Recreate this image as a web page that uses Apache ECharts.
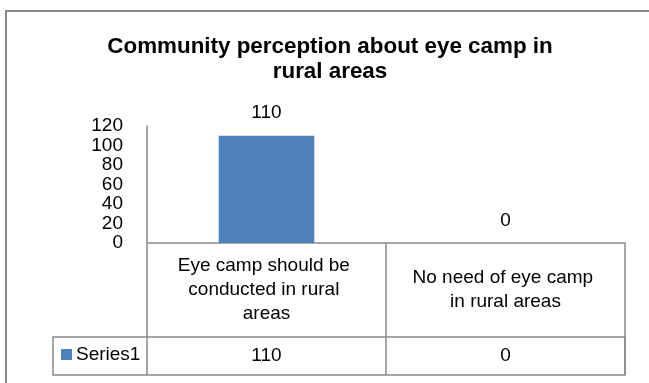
<!DOCTYPE html>
<html>
<head>
<meta charset="utf-8">
<script src="https://cdn.jsdelivr.net/npm/echarts@6/dist/echarts.min.js"></script>
<style>
  html, body { margin: 0; padding: 0; background: #fff; }
  #chart { width: 649px; height: 383px; }
</style>
</head>
<body>
<div id="chart"></div>
<script>
// Survey responses
const categories = [
  'Eye camp should be conducted in rural areas',
  'No need of eye camp in rural areas'
];
const seriesName = 'Series1';
const seriesValues = [110, 0];

// Value axis range and step
const yMin = 0;
const yMax = 120;
const yStep = 20;

const FONT = '"Liberation Sans", Arial, sans-serif';
const LINE = '#8a8a8a';

const chart = echarts.init(document.getElementById('chart'), null, { renderer: 'canvas' });

chart.setOption({
  animation: false,
  backgroundColor: '#ffffff',
  textStyle: { fontFamily: FONT, color: '#000' },
  title: {
    text: 'Community perception about eye camp in\nrural areas',
    left: 330,
    top: 34,
    textAlign: 'center',
    padding: 0,
    textStyle: {
      fontFamily: FONT,
      fontSize: 22.4,
      fontWeight: 'bold',
      lineHeight: 25,
      color: '#000'
    }
  },
  legend: {
    left: 61,
    top: 345,
    padding: 0,
    icon: 'rect',
    itemWidth: 11,
    itemHeight: 11,
    selectedMode: false,
    textStyle: { fontFamily: FONT, fontSize: 19, color: '#000', padding: [0, 0, 0, -1] },
    data: [seriesName]
  },
  grid: {
    left: 147,
    right: 24,
    top: 126,
    bottom: 140,
    containLabel: false
  },
  xAxis: [
    {
      type: 'category',
      data: categories,
      boundaryGap: true,
      axisLine: { show: true, lineStyle: { color: LINE, width: 1.5 } },
      axisTick: { show: true, length: 132, lineStyle: { color: LINE, width: 1.5 } },
      axisLabel: {
        interval: 0,
        margin: 47,
        width: 190,
        overflow: 'break',
        verticalAlign: 'middle',
        align: 'center',
        lineHeight: 24,
        fontFamily: FONT,
        fontSize: 19,
        color: '#000'
      }
    },
    {
      // Values row of the data table
      type: 'category',
      data: categories,
      position: 'bottom',
      offset: 94,
      axisLine: { show: false },
      axisTick: { show: false },
      axisLabel: {
        interval: 0,
        margin: 19,
        verticalAlign: 'middle',
        fontFamily: FONT,
        fontSize: 19,
        color: '#000',
        formatter: function (v, i) { return String(seriesValues[i]); }
      }
    }
  ],
  yAxis: {
    type: 'value',
    min: yMin,
    max: yMax,
    interval: yStep,
    axisLine: { show: true, lineStyle: { color: LINE, width: 1.5 } },
    axisTick: { show: false },
    splitLine: { show: false },
    axisLabel: {
      margin: 24,
      fontFamily: FONT,
      fontSize: 19,
      color: '#000'
    }
  },
  series: [
    {
      name: seriesName,
      type: 'bar',
      xAxisIndex: 0,
      data: seriesValues,
      barWidth: '40%',
      itemStyle: { color: '#4f81bd' },
      label: {
        show: true,
        position: 'top',
        distance: 13,
        fontFamily: FONT,
        fontSize: 19,
        color: '#000'
      }
    }
  ],
  graphic: [
    {
      // chart frame
      type: 'rect',
      silent: true,
      shape: { x: 6, y: 11, width: 700, height: 500 },
      style: { fill: 'none', stroke: LINE, lineWidth: 2 }
    },
    {
      // legend / values row of the data table
      type: 'rect',
      silent: true,
      shape: { x: 53, y: 337, width: 572, height: 38 },
      style: { fill: 'none', stroke: LINE, lineWidth: 1.5 }
    }
  ]
});
</script>
</body>
</html>
